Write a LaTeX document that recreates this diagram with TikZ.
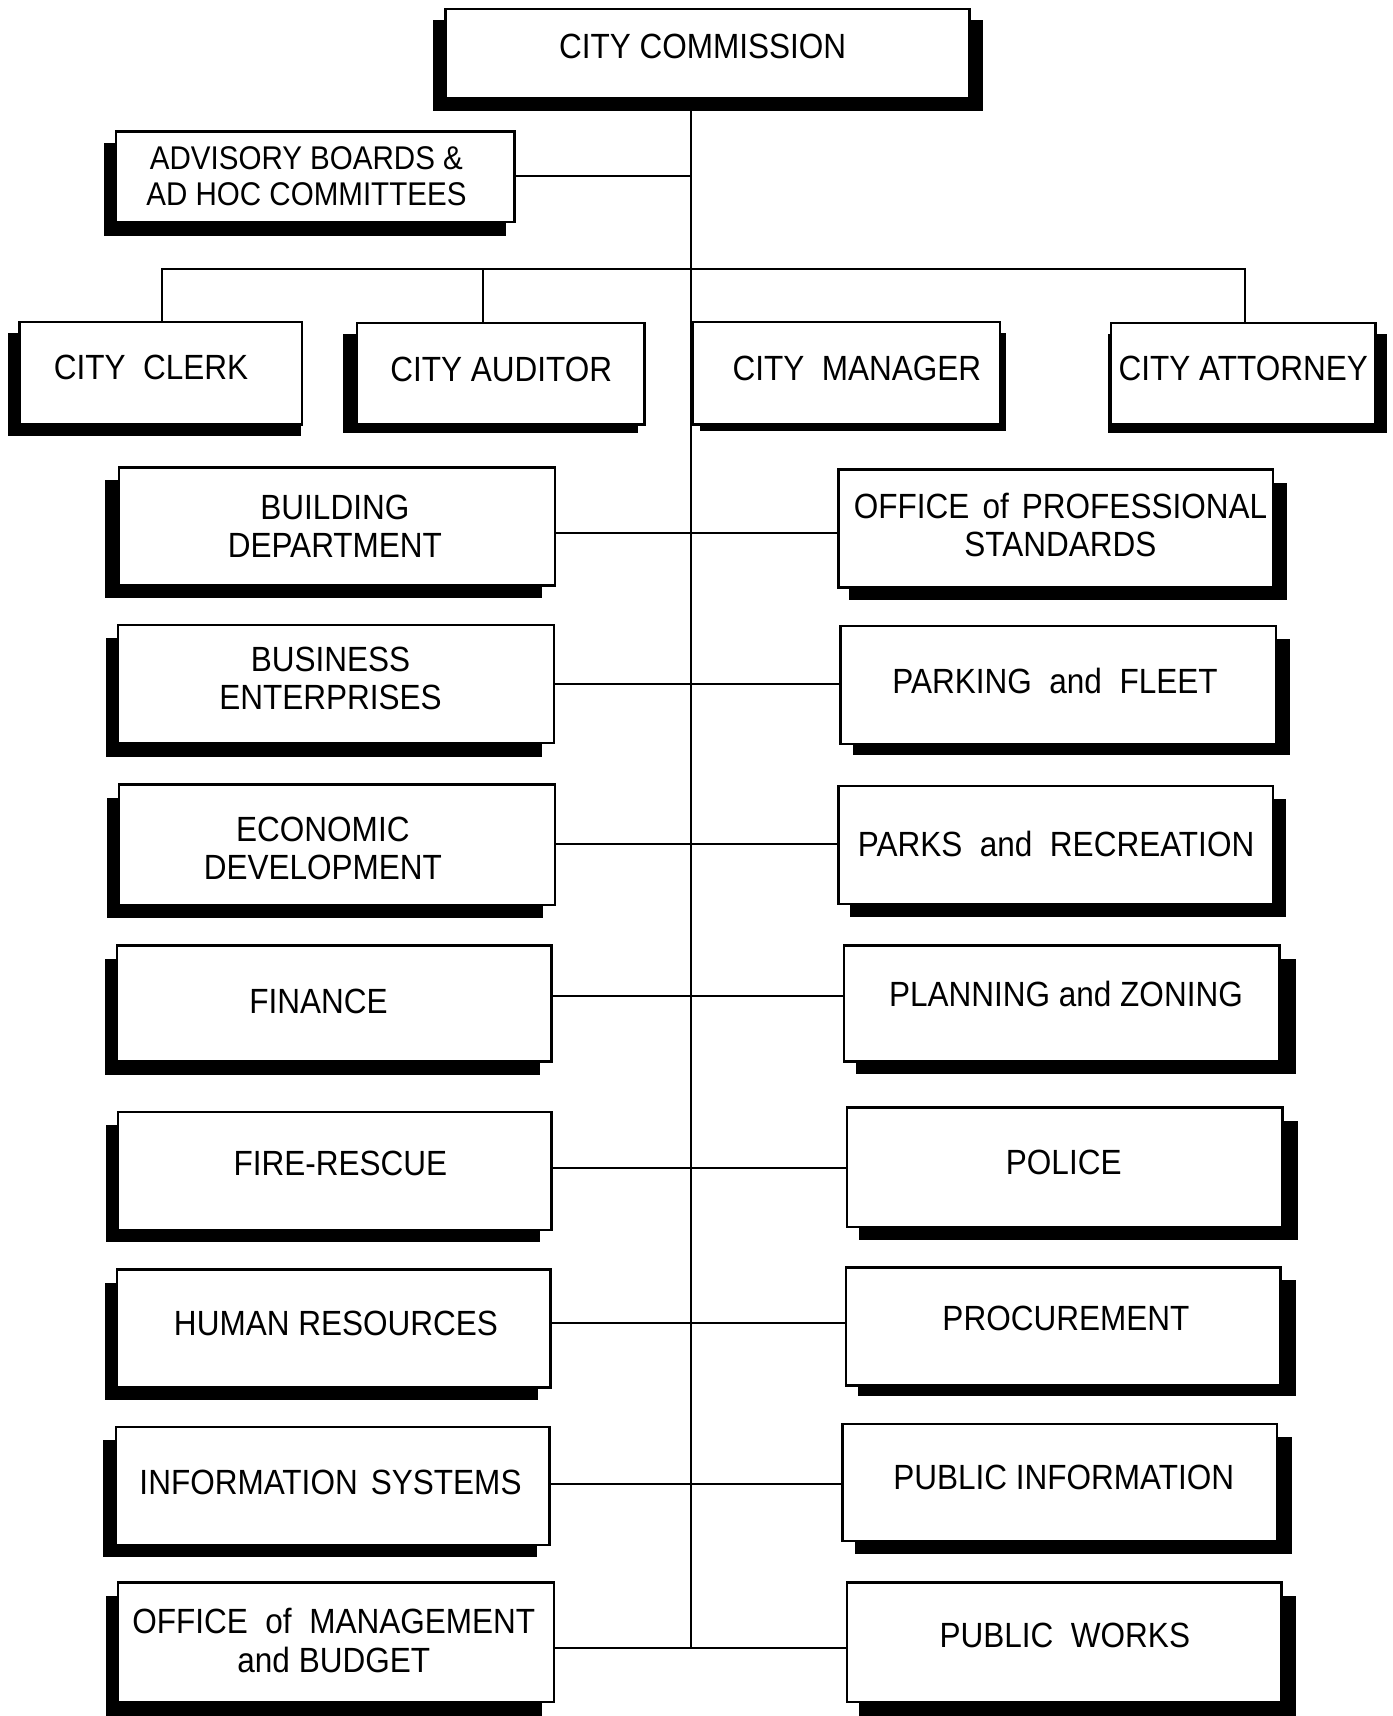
\documentclass[tikz,border=0pt]{standalone}
\usepackage{fontspec}
\setmainfont{Liberation Sans}[FakeStretch=0.9]
\usetikzlibrary{fit}

% box with a solid black drop shadow:
% name, box corners (x1,y1,x2,y2), shadow corners (x1,y1,x2,y2)
\newcommand\orgbox[9]{%
  \fill[shade] (#6,#7) rectangle (#8,#9);
  \node[box, fit={(#2,#3) (#4,#5)}] (#1) {};
}
% slightly widened word gap
\newcommand\wgap{\ \hspace{2pt}}

\begin{document}
\begin{tikzpicture}[x=0.5pt,y=-0.5pt,
  box/.style={draw, line width=1.1pt, fill=white, inner sep=0pt},
  shade/.style={fill=black},
  lbl/.style={font=\fontsize{16}{17.5}\selectfont, align=center, inner sep=0pt},
  wire/.style={line width=0.9pt}]
\fill[white] (0,0) rectangle (1272,1568);
\useasboundingbox (0,0) rectangle (1272,1568);

% junction points on the main trunk
\coordinate (bus)  at (631,246);
\coordinate (audj) at (441,246);
\coordinate (j1) at (631,487);
\coordinate (j2) at (631,625);
\coordinate (j3) at (631,771);
\coordinate (j4) at (631,910);
\coordinate (j5) at (631,1067);
\coordinate (j6) at (631,1209);
\coordinate (j7) at (631,1356);
\coordinate (j8) at (631,1506);

% connectors (drawn first, boxes sit on top)
\draw[wire] (bus |- 90,90) -- (j8);
\draw[wire] (470,161) -- (bus |- 470,161);
\draw[wire] (148,294) -- (148,246) -- (1138,246) -- (1138,295);
\draw[wire] (audj) -- (audj |- 0,295);

% top level
\orgbox{cc}{407}{8}{886}{90}{396}{18}{898}{101}
\orgbox{adv}{106}{120}{470}{203}{95}{131}{462}{216}
\orgbox{clerk}{18}{294}{276}{388}{7}{304}{275}{398}
\orgbox{aud}{326}{295}{589}{388}{313}{305}{583}{396}
\orgbox{mgr}{633}{294}{914}{388}{640}{304}{919}{394}
\orgbox{att}{1015}{295}{1257}{388}{1012}{305}{1267}{396}

% left column
\orgbox{bld}{109}{427}{507}{535}{96}{439}{495}{546}
\orgbox{bus}{108}{571}{506}{679}{97}{583}{495}{692}
\orgbox{eco}{109}{717}{507}{827}{98}{729}{496}{839}
\orgbox{fin}{107}{864}{504}{970}{96}{876}{493}{982}
\orgbox{fire}{108}{1016}{504}{1124}{97}{1028}{493}{1135}
\orgbox{hr}{107}{1160}{503}{1268}{96}{1172}{492}{1279}
\orgbox{is}{106}{1304}{502}{1412}{94}{1316}{491}{1423}
\orgbox{omb}{108}{1446}{506}{1555}{97}{1458}{495}{1568}

% right column
\orgbox{ops}{766}{429}{1163}{537}{776}{441}{1176}{548}
\orgbox{park}{768}{572}{1166}{680}{779}{584}{1179}{690}
\orgbox{rec}{766}{718}{1163}{826}{777}{730}{1175}{838}
\orgbox{plan}{771}{864}{1169}{970}{782}{876}{1184}{981}
\orgbox{pol}{774}{1012}{1172}{1121}{785}{1024}{1186}{1133}
\orgbox{proc}{773}{1158}{1170}{1266}{784}{1170}{1184}{1276}
\orgbox{pinf}{770}{1301}{1167}{1408}{781}{1313}{1181}{1420}
\orgbox{pw}{774}{1446}{1171}{1555}{785}{1458}{1184}{1568}

% department links across the trunk
\draw[wire] (bld.east |- j1) -- (ops.west |- j1);
\draw[wire] (bus.east |- j2) -- (park.west |- j2);
\draw[wire] (eco.east |- j3) -- (rec.west |- j3);
\draw[wire] (fin.east |- j4) -- (plan.west |- j4);
\draw[wire] (fire.east |- j5) -- (pol.west |- j5);
\draw[wire] (hr.east |- j6) -- (proc.west |- j6);
\draw[wire] (is.east |- j7) -- (pinf.west |- j7);
\draw[wire] (omb.east |- j8) -- (pw.west |- j8);

% labels
\node[lbl] (cc-t) at (642,42) {CITY COMMISSION};
\node[lbl, font=\fontsize{15}{16}\selectfont] (adv-t) at (280,161) {ADVISORY BOARDS \&\\AD HOC COMMITTEES};
\node[lbl] (clerk-t) at (138,336) {CITY\ \ CLERK};
\node[lbl] (aud-t) at (458,338) {CITY AUDITOR};
\node[lbl] (mgr-t) at (783,337) {CITY\ \ MANAGER};
\node[lbl] (att-t) at (1136,337) {CITY ATTORNEY};

\node[lbl] (bld-t) at (306,481) {BUILDING\\DEPARTMENT};
\node[lbl] (bus-t) at (302,620) {BUSINESS\\ENTERPRISES};
\node[lbl] (eco-t) at (295,775) {ECONOMIC\\DEVELOPMENT};
\node[lbl] (fin-t) at (291,915) {FINANCE};
\node[lbl] (fire-t) at (311,1063) {FIRE-RESCUE};
\node[lbl] (hr-t) at (307,1209) {HUMAN RESOURCES};
\node[lbl] (is-t) at (302,1355) {INFORMATION\wgap SYSTEMS};
\node[lbl] (omb-t) at (305,1499) {OFFICE\ \ of\ \ MANAGEMENT\\and BUDGET};

\node[lbl] (ops-t) at (969,480) {OFFICE\wgap of\wgap PROFESSIONAL\\STANDARDS};
\node[lbl] (park-t) at (964,622) {PARKING\ \ and\ \ FLEET};
\node[lbl] (rec-t) at (965,771) {PARKS\ \ and\ \ RECREATION};
\node[lbl] (plan-t) at (974,908) {PLANNING and ZONING};
\node[lbl] (pol-t) at (972,1062) {POLICE};
\node[lbl] (proc-t) at (974,1205) {PROCUREMENT};
\node[lbl] (pinf-t) at (972,1350) {PUBLIC INFORMATION};
\node[lbl] (pw-t) at (973,1494) {PUBLIC\ \ WORKS};
\end{tikzpicture}
\end{document}
